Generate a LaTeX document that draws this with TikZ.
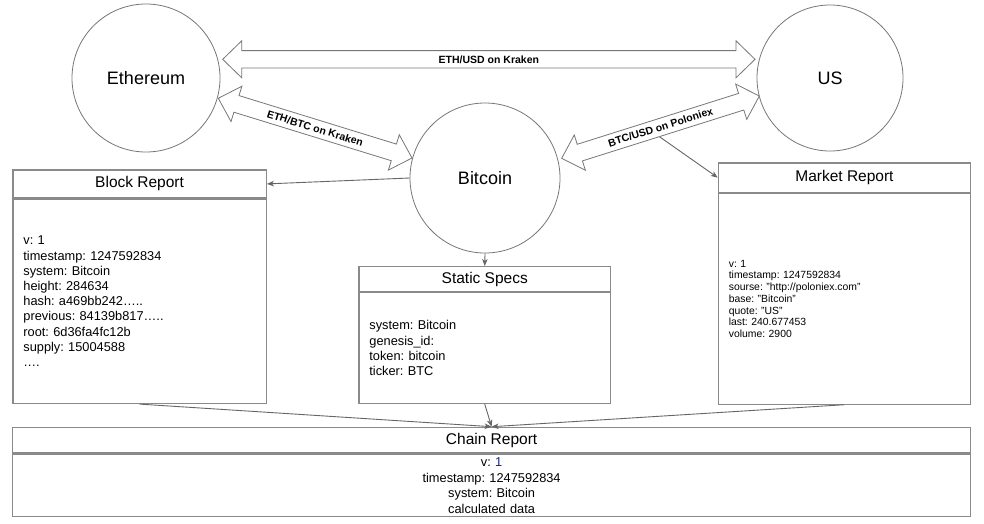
\documentclass[tikz,border=0pt]{standalone}
\usepackage{fontspec}
\setmainfont{Liberation Sans}
\usetikzlibrary{calc,arrows.meta}
\definecolor{circgray}{HTML}{777777}
\definecolor{boxgray}{HTML}{8A8A8A}
\definecolor{conngray}{HTML}{666666}
\definecolor{vblue}{HTML}{1A237E}
\tikzset{
  circnode/.style={circle, draw=circgray, line width=0.8pt, inner sep=0pt, font=\fontsize{18}{20}\selectfont},
  hdrbox/.style={draw=boxgray, line width=1.2pt, rectangle, anchor=north west, inner sep=0pt, font=\fontsize{15.5}{18}\selectfont},
  bodybox/.style={draw=boxgray, line width=1.2pt, rectangle, anchor=north west, inner xsep=10.5pt, inner ysep=0pt, align=left},
  arrbox/.style={draw=circgray, line width=0.8pt, fill=white, line join=miter},
  arrlabel/.style={font=\bfseries\fontsize{10.5}{12}\selectfont, inner sep=0pt},
  conn/.style={draw=conngray, line width=0.9pt, -{Stealth[length=7pt,width=5.5pt,inset=2pt]}}
}
\newcommand{\fatarrow}[3]{%
  \coordinate (#1h) at ($(#1)!19pt!(#2)$);
  \coordinate (#2h) at ($(#2)!19pt!(#1)$);
  \draw[arrbox] (#1) -- ($(#1h)!18.5pt!90:(#2)$) -- ($(#1h)!8.7pt!90:(#2)$)
    -- ($(#2h)!8.7pt!-90:(#1)$) -- ($(#2h)!18.5pt!-90:(#1)$) -- (#2)
    -- ($(#2h)!18.5pt!90:(#1)$) -- ($(#2h)!8.7pt!90:(#1)$)
    -- ($(#1h)!8.7pt!-90:(#2)$) -- ($(#1h)!18.5pt!-90:(#2)$) -- cycle;
  \path (#1) -- node[arrlabel, sloped] {#3} (#2);
}
\frenchspacing
\begin{document}
\frenchspacing
\begin{tikzpicture}[x=1pt, y=-1pt]
\useasboundingbox[fill=white] (0,0) rectangle (984,523);

% circles
\node[circnode, minimum size=148pt] (eth) at (146,78) {Ethereum};
\node[circnode, minimum size=146pt] (us) at (830,78) {US};
\node[circnode, minimum size=150pt] (btc) at (485,178) {Bitcoin};

% arrow end points
\coordinate (eu1) at ($(eth)+(76.7,-18.7)$);
\coordinate (eu2) at ($(us)+(-75,-18.7)$);
\coordinate (eb1) at ($(eth)+(72.3,20.3)$);
\coordinate (eb2) at ($(btc)+(-73,-20)$);
\coordinate (bu1) at ($(btc)+(76.7,-19.7)$);
\coordinate (bu2) at ($(us)+(-70.7,18)$);

\fatarrow{eu1}{eu2}{ETH/USD on Kraken}
\fatarrow{eb1}{eb2}{ETH/BTC on Kraken}
\fatarrow{bu1}{bu2}{BTC/USD on Poloniex}

% Block Report
\node[hdrbox, minimum width=253.4pt, minimum height=28pt] (bh) at (12.3,169.3) {Block Report};
\node[bodybox, minimum width=253.4pt, minimum height=204.4pt, text width=232.4pt,
      font=\fontsize{12.8}{15.2}\selectfont] (bb) at (bh.south west)
 {v: 1\\timestamp: 1247592834\\system: Bitcoin\\height: 284634\\hash: a469bb242…..\\previous: 84139b817…..\\root: 6d36fa4fc12b\\supply: 15004588\\…. };

% Static Specs
\node[hdrbox, minimum width=251.7pt, minimum height=25pt] (sh) at (358.3,266) {Static Specs};
\node[bodybox, minimum width=251.7pt, minimum height=110.7pt, text width=230.7pt,
      font=\fontsize{12.8}{15.2}\selectfont] (sb) at (sh.south west)
 {system: Bitcoin\\genesis\_id:\\token: bitcoin\\ticker: BTC};

% Market Report
\node[hdrbox, minimum width=252.3pt, minimum height=29.4pt] (mh) at (717.7,162.3) {Market Report};
\node[bodybox, minimum width=252.3pt, minimum height=210.6pt, text width=231.3pt,
      font=\fontsize{10.4}{11.7}\selectfont] (mb) at (mh.south west)
 {v: 1\\timestamp: 1247592834\\sourse: "http://poloniex.com"\\base: "Bitcoin"\\quote: "US"\\last: 240.677453\\volume: 2900};

% Chain Report
\node[hdrbox, minimum width=958pt, minimum height=25.6pt] (ch) at (12,426.7) {Chain Report};
\node[bodybox, minimum width=958pt, minimum height=62.7pt, text width=937pt, align=center,
      font=\fontsize{12.8}{15.5}\selectfont] (cb) at (ch.south west)
 {v: \textcolor{vblue}{1}\\timestamp: 1247592834\\system: Bitcoin\\calculated data};

% connectors
\coordinate (mkm) at ($(bu1)!0.482!(bu2)$);
\coordinate (mk0) at ($(mkm)!9pt!-90:(bu2)$);
\draw[conn] (btc.west) -- (bh.east);
\draw[conn] (btc.south) -- (sh.north);
\draw[conn] (mk0) -- (mh.west);
\draw[conn] (bb.south) -- (ch.north);
\draw[conn] (sb.south) -- (ch.north);
\draw[conn] (mb.south) -- (ch.north);
\end{tikzpicture}
\end{document}
